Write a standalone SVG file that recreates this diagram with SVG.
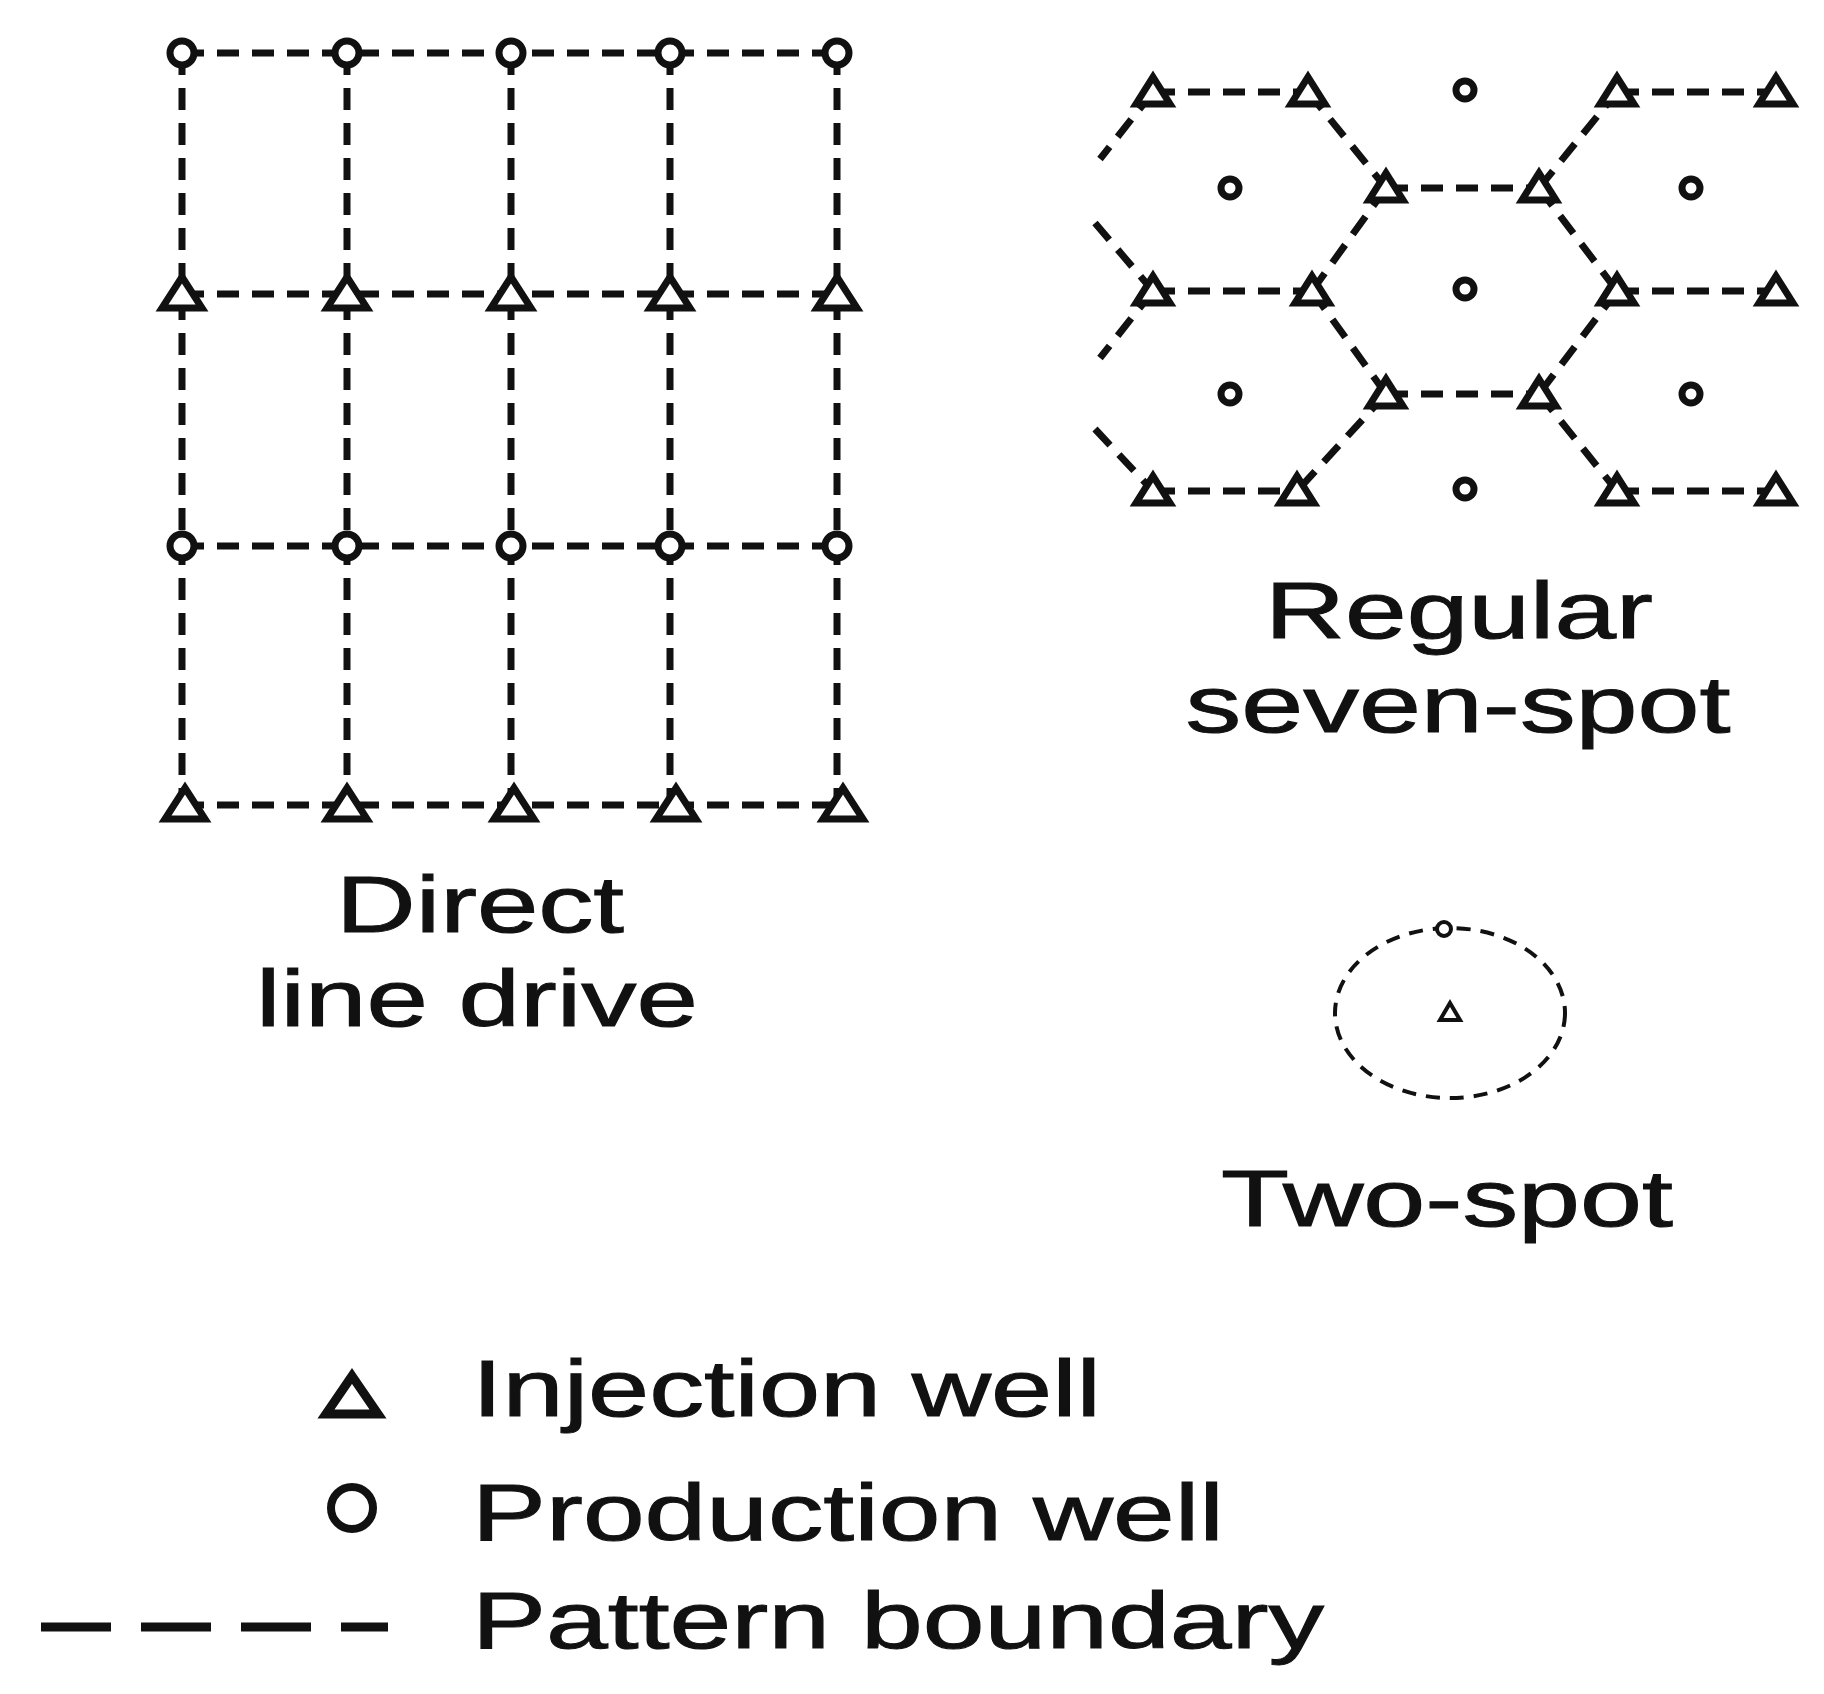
<svg xmlns="http://www.w3.org/2000/svg" xmlns:xlink="http://www.w3.org/1999/xlink" width="1824" height="1694" viewBox="0 0 1824 1694">
<style>
.d{stroke:#111;stroke-width:7;stroke-dasharray:22 13;fill:none}
.t{font-family:"Liberation Sans",Arial,sans-serif;font-size:80px;fill:#111;stroke:#111;stroke-width:1}
.w{fill:#fff;stroke:#111;stroke-width:7}
</style>
<defs>
<polygon id="tri" points="0,-17 20,14 -20,14" class="w"/>
<polygon id="tris" points="0,-15 17,12 -17,12" class="w"/>
<circle id="cir" r="12" class="w"/>
<circle id="cirs" r="9" class="w"/>
</defs>
<rect width="1824" height="1694" fill="#fff"/>
<g id="connectors">
<path class="d" d="M182,53H837M182,294H837M182,546H837M182,805H837M182,53V805M347,53V805M511,53V805M670,53V805M837,53V805"/>
<path class="d" transform="translate(-10,0)" d="M1163,92H1318M1627,92H1786M1396,188H1549M1163,291H1322M1627,291H1786M1396,394H1549M1163,491H1307M1627,491H1786
M1318,92L1396,188M1549,188L1627,92M1396,188L1322,291M1549,188L1627,291M1322,291L1396,394M1627,291L1549,394M1396,394L1307,491M1549,394L1627,491
M1163,92L1110,159M1105,223L1163,291M1163,291L1110,358M1105,429L1163,491"/>
<ellipse class="d" cx="1450" cy="1013" rx="115" ry="85" style="stroke-width:4;stroke-dasharray:14 10"/>
<path class="d" d="M41,1627H388" style="stroke-width:9;stroke-dasharray:70 30"/>
</g>
<g id="grid-nodes">
<use href="#cir" x="182" y="53"/><use href="#cir" x="347" y="53"/><use href="#cir" x="511" y="53"/><use href="#cir" x="670" y="53"/><use href="#cir" x="837" y="53"/>
<use href="#tri" x="182" y="294"/><use href="#tri" x="347" y="294"/><use href="#tri" x="511" y="294"/><use href="#tri" x="670" y="294"/><use href="#tri" x="837" y="294"/>
<use href="#cir" x="182" y="546"/><use href="#cir" x="347" y="546"/><use href="#cir" x="511" y="546"/><use href="#cir" x="670" y="546"/><use href="#cir" x="837" y="546"/>
<use href="#tri" x="185" y="805"/><use href="#tri" x="347" y="805"/><use href="#tri" x="514" y="805"/><use href="#tri" x="676" y="805"/><use href="#tri" x="843" y="805"/>
</g>
<g id="hex-nodes" transform="translate(-10,0)">
<use href="#tris" x="1163" y="92"/><use href="#tris" x="1318" y="92"/><use href="#cirs" x="1475" y="90"/><use href="#tris" x="1627" y="92"/><use href="#tris" x="1786" y="92"/>
<use href="#cirs" x="1240" y="188"/><use href="#tris" x="1396" y="188"/><use href="#tris" x="1549" y="188"/><use href="#cirs" x="1701" y="188"/>
<use href="#tris" x="1163" y="291"/><use href="#tris" x="1322" y="291"/><use href="#cirs" x="1475" y="289"/><use href="#tris" x="1627" y="291"/><use href="#tris" x="1786" y="291"/>
<use href="#cirs" x="1240" y="394"/><use href="#tris" x="1396" y="394"/><use href="#tris" x="1549" y="394"/><use href="#cirs" x="1701" y="394"/>
<use href="#tris" x="1163" y="491"/><use href="#tris" x="1307" y="491"/><use href="#cirs" x="1475" y="489"/><use href="#tris" x="1627" y="491"/><use href="#tris" x="1786" y="491"/>
</g>
<g id="two-spot">
<circle cx="1444" cy="929" r="7" fill="#fff" stroke="#111" stroke-width="4"/>
<polygon points="1450,1003 1460,1020 1440,1020" fill="#fff" stroke="#111" stroke-width="4"/>
</g>
<g id="labels">
<text class="t" x="1459" y="638" text-anchor="middle" textLength="388" lengthAdjust="spacingAndGlyphs">Regular</text>
<text class="t" x="1458" y="732" text-anchor="middle" textLength="545" lengthAdjust="spacingAndGlyphs">seven-spot</text>
<text class="t" x="480" y="932" text-anchor="middle" textLength="288" lengthAdjust="spacingAndGlyphs">Direct</text>
<text class="t" x="477" y="1026" text-anchor="middle" textLength="442" lengthAdjust="spacingAndGlyphs">line drive</text>
<text class="t" x="1447" y="1226" text-anchor="middle" textLength="452" lengthAdjust="spacingAndGlyphs">Two-spot</text>
</g>
<g id="legend">
<polygon points="352,1376 378,1414 326,1414" fill="#fff" stroke="#111" stroke-width="9"/>
<circle cx="352" cy="1508" r="21" fill="#fff" stroke="#111" stroke-width="8"/>
<text class="t" x="472" y="1416" textLength="629" lengthAdjust="spacingAndGlyphs">Injection well</text>
<text class="t" x="472" y="1540" textLength="752" lengthAdjust="spacingAndGlyphs">Production well</text>
<text class="t" x="472" y="1648" textLength="852" lengthAdjust="spacingAndGlyphs">Pattern boundary</text>
</g>
</svg>
